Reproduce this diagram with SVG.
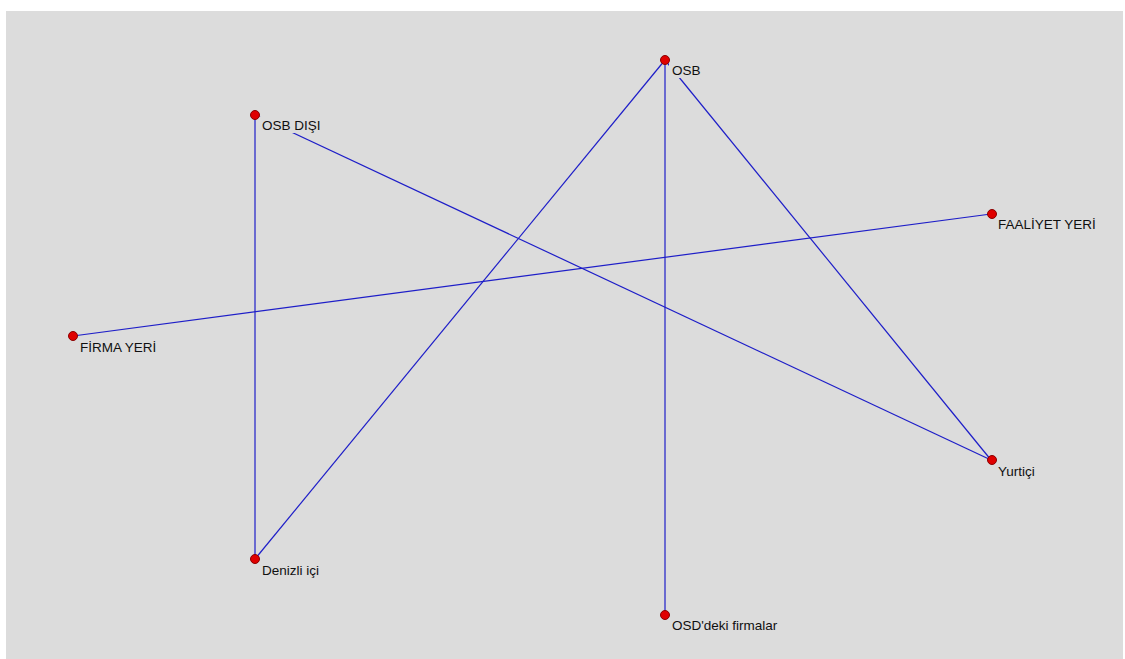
<svg xmlns="http://www.w3.org/2000/svg" width="1125" height="659" viewBox="0 0 1125 659">
<style>
.bg{fill:#dcdcdc}
.edge{stroke:#1e1ec8;stroke-width:1.2;fill:none}
.dot{fill:#e00000;stroke:#8a0000;stroke-width:1}
.lbg{fill:#dcdcdc}
.lbl{font-family:"Liberation Sans",Arial,sans-serif;font-size:13.5px;fill:#101010}
</style>
<rect x="0" y="0" width="1125" height="659" fill="#ffffff"/>
<rect class="bg" x="6" y="11" width="1117" height="648"/>
<g id="connectors">
<line class="edge" x1="255" y1="115" x2="255" y2="559"/>
<line class="edge" x1="255" y1="115" x2="991" y2="460"/>
<line class="edge" x1="665" y1="60" x2="255" y2="559"/>
<line class="edge" x1="665" y1="60" x2="665" y2="615"/>
<line class="edge" x1="665" y1="60" x2="991" y2="460"/>
<line class="edge" x1="73" y1="336" x2="991" y2="214"/>
</g>
<g id="node-osb">
<rect class="lbg" x="669" y="62" width="34" height="16"/>
<text class="lbl" x="672" y="75">OSB</text>
<circle class="dot" cx="665" cy="60" r="4.5"/>
</g>
<g id="node-osb-disi">
<rect class="lbg" x="259" y="117" width="64" height="16"/>
<text class="lbl" x="262" y="130">OSB DIŞI</text>
<circle class="dot" cx="255" cy="115" r="4.5"/>
</g>
<g id="node-faaliyet-yeri">
<rect class="lbg" x="995" y="216" width="112" height="16"/>
<text class="lbl" x="998" y="229">FAALİYET YERİ</text>
<circle class="dot" cx="992" cy="214" r="4.5"/>
</g>
<g id="node-firma-yeri">
<rect class="lbg" x="77" y="338" width="88" height="16"/>
<text class="lbl" x="80" y="352">FİRMA YERİ</text>
<circle class="dot" cx="73" cy="336" r="4.5"/>
</g>
<g id="node-yurtici">
<rect class="lbg" x="995" y="462" width="48" height="16"/>
<text class="lbl" x="998" y="476">Yurtiçi</text>
<circle class="dot" cx="992" cy="460" r="4.5"/>
</g>
<g id="node-denizli-ici">
<rect class="lbg" x="259" y="561" width="76" height="16"/>
<text class="lbl" x="262" y="575">Denizli içi</text>
<circle class="dot" cx="255" cy="559" r="4.5"/>
</g>
<g id="node-osd-deki-firmalar">
<rect class="lbg" x="669" y="617" width="114" height="16"/>
<text class="lbl" x="672" y="630">OSD'deki firmalar</text>
<circle class="dot" cx="665" cy="615" r="4.5"/>
</g>
</svg>
